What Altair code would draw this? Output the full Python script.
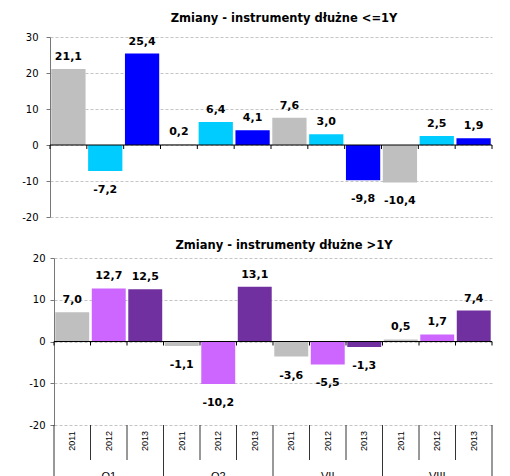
import altair as alt
import pandas as pd

groups = ["Q1", "Q2", "VII", "VIII"]
years = ["2011", "2012", "2013"]
short_vals = [21.1, -7.2, 25.4, 0.2, 6.4, 4.1, 7.6, 3.0, -9.8, -10.4, 2.5, 1.9]
long_vals = [7.0, 12.7, 12.5, -1.1, -10.2, 13.1, -3.6, -5.5, -1.3, 0.5, 1.7, 7.4]
short_colors = ["#BFBFBF", "#00CCFF", "#0000FF"]
long_colors = ["#BFBFBF", "#CC66FF", "#7030A0"]
short_title = "Zmiany - instrumenty dłużne <=1Y"
long_title = "Zmiany - instrumenty dłużne >1Y"

N = len(groups) * len(years)
W = 442
FONT = "DejaVu Sans"


def frame(vals):
    rows = []
    for i, v in enumerate(vals):
        rows.append({"idx": i, "group": groups[i // 3], "year": years[i % 3],
                     "value": v, "label": f"{v:.1f}".replace(".", ",")})
    return pd.DataFrame(rows)


bounds_df = pd.DataFrame({"b": list(range(N + 1))})
bounds_df["grp"] = bounds_df["b"] % 3 == 0
groups_df = pd.DataFrame({"g": list(range(len(groups))), "group": groups})


def panel(vals, colors, lo, hi, H, title, title_offset, table, left):
    df = frame(vals)
    xs = alt.Scale(domain=[0, N], range=[left, W], nice=False, zero=False)
    ys = alt.Scale(domain=[lo, hi], nice=False, zero=False)
    yaxis = alt.Axis(
        values=list(range(lo, hi + 1, 10)), tickCount=len(range(lo, hi + 1, 10)),
        grid=True, gridDash=[3, 2], offset=-left,
        gridColor="#c4c4c4", domainColor="#777777", tickColor="#777777",
        tickSize=4, labelFont=FONT, labelFontSize=10, labelColor="#000000",
        labelPadding=8 if left == 0 else 5, labelOverlap=False,
        labelExpr="'' + datum.value", title=None)
    tick_len = 4 * (hi - lo) / H
    base = alt.Chart(df)
    bars = base.transform_calculate(
        x0="datum.idx + 0.035", x1="datum.idx + 0.965", z="0"
    ).mark_bar().encode(
        x=alt.X("x0:Q", scale=xs, axis=None),
        x2="x1:Q",
        y=alt.Y("value:Q", scale=ys, axis=yaxis),
        y2="z:Q",
        color=alt.Color("year:N", scale=alt.Scale(domain=years, range=colors), legend=None),
    )
    pos = base.transform_filter("datum.value >= 0").transform_calculate(
        xc="datum.idx + 0.5").mark_text(
        font=FONT, fontWeight="bold", fontSize=11, baseline="alphabetic", dy=-9,
        color="#000000").encode(x=alt.X("xc:Q", scale=xs, axis=None),
                                y=alt.Y("value:Q", scale=ys, axis=yaxis), text="label:N")
    neg = base.transform_filter("datum.value < 0").transform_calculate(
        xc="datum.idx + 0.5").mark_text(
        font=FONT, fontWeight="bold", fontSize=11, baseline="alphabetic", dy=22,
        color="#000000").encode(x=alt.X("xc:Q", scale=xs, axis=None),
                                y=alt.Y("value:Q", scale=ys, axis=yaxis), text="label:N")
    zero = alt.Chart(pd.DataFrame({"z": [0]})).mark_rule(color="#000000", strokeWidth=1).encode(
        y=alt.Y("z:Q", scale=ys, axis=yaxis), x=alt.value(left), x2=alt.value(W))
    ticks = alt.Chart(bounds_df).transform_calculate(
        t0="0", t1=str(-tick_len)).mark_rule(color="#000000", strokeWidth=1).encode(
        x=alt.X("b:Q", scale=xs, axis=None),
        y=alt.Y("t0:Q", scale=ys, axis=yaxis), y2="t1:Q")
    layers = [bars, zero, ticks, pos, neg]
    if table:
        yr = alt.Chart(bounds_df).transform_filter("!datum.grp").mark_rule(
            color="#333333", strokeWidth=1).encode(
            x=alt.X("b:Q", scale=xs, axis=None), y=alt.value(H), y2=alt.value(H + 35))
        gr = alt.Chart(bounds_df).transform_filter("datum.grp").mark_rule(
            color="#333333", strokeWidth=1).encode(
            x=alt.X("b:Q", scale=xs, axis=None), y=alt.value(H), y2=alt.value(H + 60))
        ytxt = base.transform_calculate(xc="datum.idx + 0.5").mark_text(
            font="Liberation Sans", fontSize=9, angle=270, align="center",
            baseline="middle", color="#000000").encode(
            x=alt.X("xc:Q", scale=xs, axis=None), y=alt.value(H + 16), text="year:N")
        gtxt = alt.Chart(groups_df).transform_calculate(xc="datum.g * 3 + 1.5").mark_text(
            font="Liberation Sans", fontSize=11, align="center", baseline="top",
            color="#000000").encode(
            x=alt.X("xc:Q", scale=xs, axis=None), y=alt.value(H + 46), text="group:N")
        layers += [yr, gr, ytxt, gtxt]
    return alt.layer(*layers).properties(
        width=W, height=H,
        title=alt.TitleParams(title, font=FONT, fontSize=11.5, fontWeight="bold",
                              anchor="middle", dx=13, offset=title_offset, color="#000000"))


top = panel(short_vals, short_colors, -20, 30, 180, short_title, 8, False, 0)
bottom = panel(long_vals, long_colors, -20, 20, 167, long_title, 2, True, 4)

chart = alt.vconcat(top, bottom, spacing=17).resolve_scale(color="independent").properties(
    padding={"left": 13, "top": 4, "right": 5, "bottom": 5}
).configure_view(stroke=None)

chart.save("out.html", embed_options={"renderer": "svg", "actions": False})
